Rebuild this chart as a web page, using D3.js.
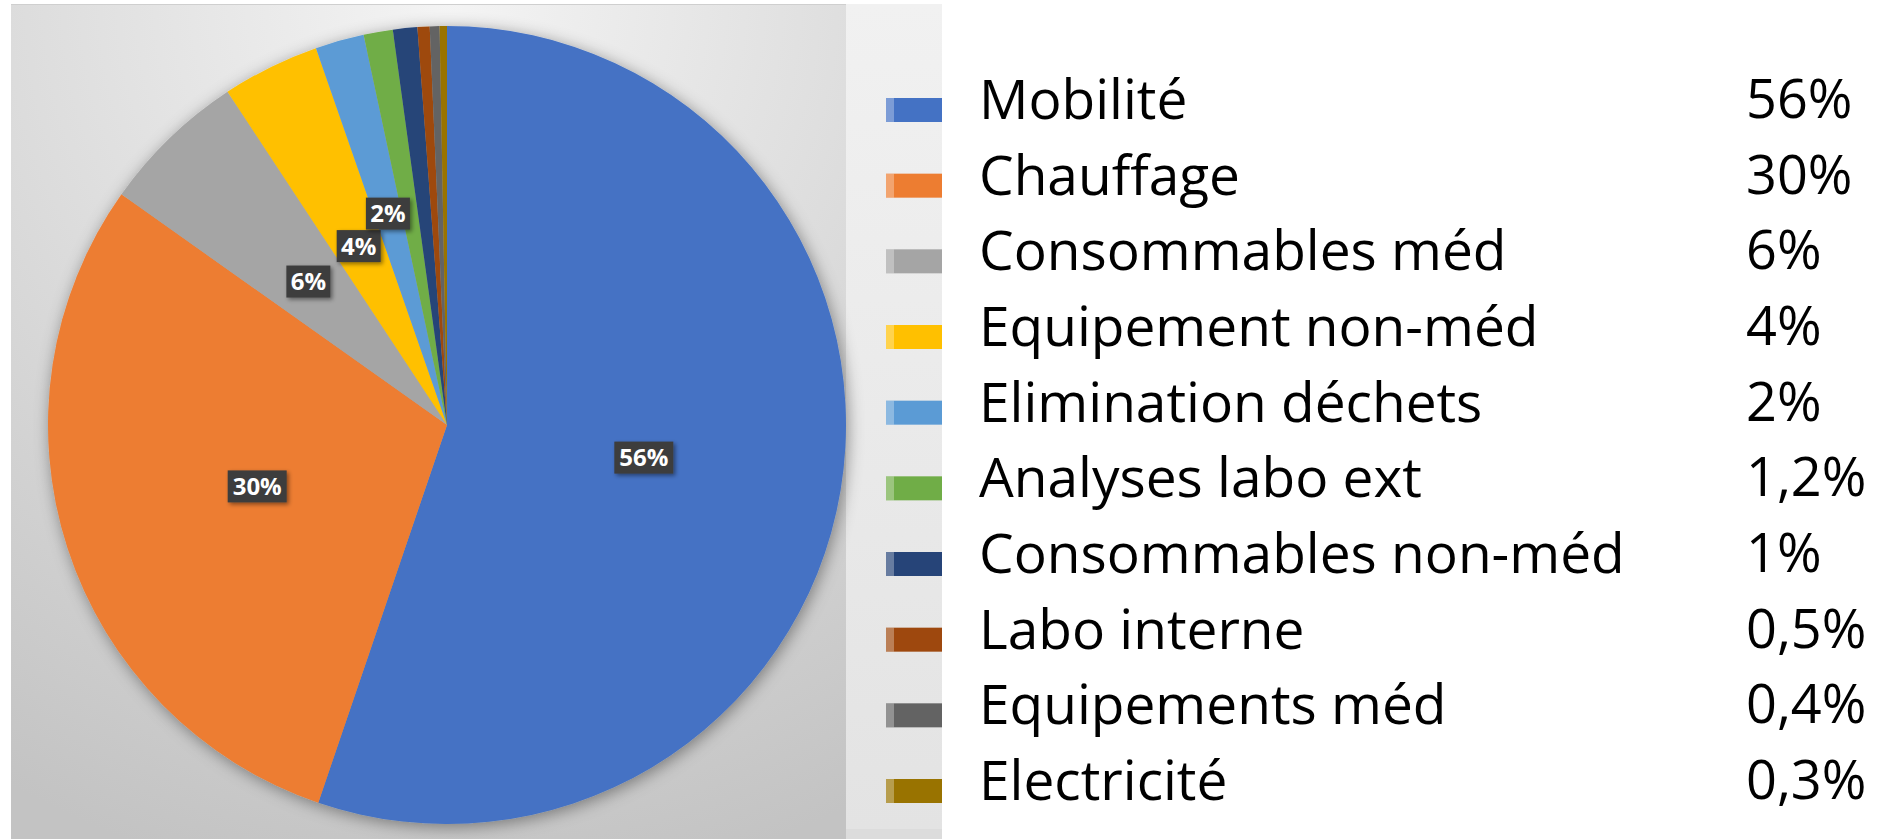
<!DOCTYPE html>
<html>
<head>
<meta charset="utf-8">
<script src="https://cdn.jsdelivr.net/npm/d3@7/dist/d3.min.js"></script>
<style>
  body { margin: 0; background: #ffffff; }
  svg { display: block; }
</style>
</head>
<body>
<script>
var categories = ["Mobilité", "Chauffage", "Consommables méd", "Equipement non-méd",
                  "Elimination déchets", "Analyses labo ext", "Consommables non-méd",
                  "Labo interne", "Equipements méd", "Electricité"];
var values = [56, 30, 6, 4, 2, 1.2, 1, 0.5, 0.4, 0.3];
var valueLabels = ["56%", "30%", "6%", "4%", "2%", "1,2%", "1%", "0,5%", "0,4%", "0,3%"];
var colors = ["#4472C4", "#ED7D31", "#A5A5A5", "#FFC000", "#5B9BD5",
              "#70AD47", "#264478", "#9E480E", "#636363", "#997300"];
var minLabelled = 2;   // slices below this get no data label

var width = 1880;
var height = 839;
var cx = 447, cy = 425, radius = 399;

var svg = d3.select("body").append("svg")
    .attr("width", width)
    .attr("height", height);

var defs = svg.append("defs");

var bg = defs.append("radialGradient")
    .attr("id", "bg")
    .attr("gradientUnits", "userSpaceOnUse")
    .attr("cx", 450).attr("cy", 0).attr("r", 900);
bg.append("stop").attr("offset", 0).attr("stop-color", "#f4f4f4");
bg.append("stop").attr("offset", 0.45).attr("stop-color", "#dedede");
bg.append("stop").attr("offset", 1).attr("stop-color", "#c3c3c3");

var side = defs.append("linearGradient")
    .attr("id", "side")
    .attr("x1", 0).attr("y1", 0).attr("x2", 0).attr("y2", 1);
side.append("stop").attr("offset", 0).attr("stop-color", "#f1f1f1");
side.append("stop").attr("offset", 1).attr("stop-color", "#e3e3e3");

var shadow = defs.append("filter").attr("id", "pieShadow")
    .attr("x", "-10%").attr("y", "-10%").attr("width", "120%").attr("height", "120%");
shadow.append("feDropShadow")
    .attr("dx", 2).attr("dy", 3).attr("stdDeviation", 8)
    .attr("flood-color", "#000").attr("flood-opacity", 0.4);

var boxShadow = defs.append("filter").attr("id", "boxShadow")
    .attr("x", "-30%").attr("y", "-30%").attr("width", "160%").attr("height", "160%");
boxShadow.append("feDropShadow")
    .attr("dx", 2).attr("dy", 2).attr("stdDeviation", 2)
    .attr("flood-color", "#000").attr("flood-opacity", 0.45);

// panels
svg.append("rect")
    .attr("x", 11).attr("y", 4)
    .attr("width", 835).attr("height", height - 4)
    .attr("fill", "url(#bg)");
svg.append("line")
    .attr("x1", 11).attr("x2", 846).attr("y1", 4.5).attr("y2", 4.5)
    .attr("stroke", "#cfcfcf");
svg.append("rect")
    .attr("x", 846).attr("y", 4)
    .attr("width", 96).attr("height", 825)
    .attr("fill", "url(#side)");
svg.append("rect")
    .attr("x", 846).attr("y", 829)
    .attr("width", 96).attr("height", 10)
    .attr("fill", "#dcdcdc");

// pie
var pie = d3.pie().sort(null).value(function (d) { return d; });
var arcs = pie(values);
var arc = d3.arc().innerRadius(0).outerRadius(radius);

var g = svg.append("g")
    .attr("transform", "translate(" + cx + "," + cy + ")");

g.append("g")
    .attr("filter", "url(#pieShadow)")
  .selectAll("path")
    .data(arcs)
    .enter()
    .append("path")
    .attr("d", arc)
    .attr("fill", function (d, i) { return colors[i]; });

// data labels, pushed outward when they would overlap the previous one
var placed = [];
var labelData = arcs.filter(function (d) { return d.value >= minLabelled; });
labelData.forEach(function (d) {
    var a = (d.startAngle + d.endAngle) / 2;
    var w = valueLabels[d.index].length * 15 + 14;
    var h = 32;
    var r = radius * 0.5;
    var x, y;
    for (var k = 0; k < 100; k++) {
        x = Math.sin(a) * r;
        y = -Math.cos(a) * r;
        var hit = placed.some(function (p) {
            return Math.abs(p.x - x) < (p.w + w) / 2 && Math.abs(p.y - y) < (p.h + h) / 2;
        });
        if (!hit) break;
        r += 2;
    }
    placed.push({ x: x, y: y, w: w, h: h, i: d.index });
});

var labels = g.selectAll("g.lbl")
    .data(placed)
    .enter()
    .append("g")
    .attr("class", "lbl")
    .attr("transform", function (d) { return "translate(" + d.x + "," + d.y + ")"; });

labels.append("rect")
    .attr("x", function (d) { return -d.w / 2; })
    .attr("y", function (d) { return -d.h / 2; })
    .attr("width", function (d) { return d.w; })
    .attr("height", function (d) { return d.h; })
    .attr("fill", "#3d3d3d")
    .attr("filter", "url(#boxShadow)");

labels.append("text")
    .attr("text-anchor", "middle")
    .attr("dy", "0.36em")
    .attr("fill", "#ffffff")
    .style("font-family", "'Open Sans', sans-serif")
    .style("font-weight", "bold")
    .style("font-size", "24px")
    .text(function (d) { return valueLabels[d.i]; });

// legend
var yLegend = d3.scalePoint()
    .domain(categories)
    .range([110, 791]);

var legend = svg.selectAll("g.leg")
    .data(categories)
    .enter()
    .append("g")
    .attr("class", "leg")
    .attr("transform", function (d) { return "translate(0," + yLegend(d) + ")"; });

legend.append("rect")
    .attr("x", 886).attr("y", -12)
    .attr("width", 56).attr("height", 24)
    .attr("fill", function (d, i) { return colors[i]; });
legend.append("rect")
    .attr("x", 886).attr("y", -12)
    .attr("width", 8).attr("height", 24)
    .attr("fill", "#ffffff").attr("opacity", 0.3);

legend.append("text")
    .attr("x", 979)
    .attr("y", 9)
    .style("font-family", "'Open Sans', sans-serif")
    .style("font-size", "55px")
    .attr("fill", "#000")
    .text(function (d) { return d; });

legend.append("text")
    .attr("x", 1746)
    .attr("y", 8)
    .style("font-family", "'Open Sans', sans-serif")
    .style("font-size", "54px")
    .attr("fill", "#000")
    .text(function (d, i) { return valueLabels[i]; });
</script>
</body>
</html>
